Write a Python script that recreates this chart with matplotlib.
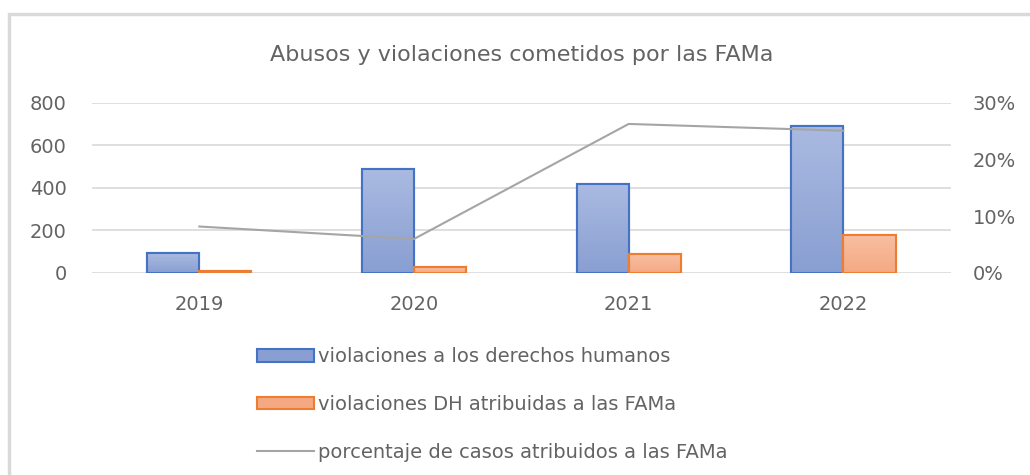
import matplotlib.pyplot as plt
from matplotlib.ticker import PercentFormatter
from matplotlib.patches import Rectangle
from matplotlib.colors import LinearSegmentedColormap
import numpy as np

# DATA ---------------------------------------------------------------------
years = ['2019', '2020', '2021', '2022']
violaciones_dh = [94, 489, 417, 693]            # violaciones a los derechos humanos
violaciones_fama = [8, 30, 89, 179]             # violaciones DH atribuidas a las FAMa
porcentaje_fama = [0.082, 0.060, 0.263, 0.251]  # porcentaje de casos atribuidos a las FAMa

labels = ['violaciones a los derechos humanos',
          'violaciones DH atribuidas a las FAMa',
          'porcentaje de casos atribuidos a las FAMa']

# STYLE ----------------------------------------------------------------------
plt.rcParams['font.family'] = ['DejaVu Sans']
text_gray = '#636363'
blue_top, blue_bot, blue_edge = '#AABAE1', '#899FD2', '#4472C4'
orange_top, orange_bot, orange_edge = '#F8BFA2', '#F4A983', '#ED7D31'
line_gray = '#A5A5A5'

fig = plt.figure(figsize=(10.3, 4.75), dpi=100)
ax = fig.add_axes([0.0893, 0.4253, 0.8337, 0.3579])

# outer chart frame (only top/left visible in the crop)
fig.patches.append(Rectangle((9 / 1030, -0.1), 1.2, 1 - 14 / 475 + 0.1,
                             transform=fig.transFigure, fill=False,
                             edgecolor='#D9D9D9', linewidth=2.5))

x = np.arange(len(years))
w = 0.243
bars1 = ax.bar(x - w / 2, violaciones_dh, w, color=blue_bot, edgecolor=blue_edge,
               linewidth=1.5, label=labels[0], zorder=3)
bars2 = ax.bar(x + w / 2, violaciones_fama, w, color=orange_bot, edgecolor=orange_edge,
               linewidth=1.5, label=labels[1], zorder=3)


# vertical gradient fill inside each bar (Excel style)
def gradient_fill(bars, top, bot):
    cmap = LinearSegmentedColormap.from_list('g', [bot, top])
    grad = np.linspace(0, 1, 256).reshape(-1, 1)
    for b in bars:
        bx, by = b.get_x(), b.get_y()
        bw, bh = b.get_width(), b.get_height()
        if bh <= 0:
            continue
        im = ax.imshow(grad, cmap=cmap, origin='lower', aspect='auto',
                       extent=[bx, bx + bw, by, by + bh], zorder=3.1)
        im.set_clip_path(b)
        edge = Rectangle((bx, by), bw, bh, fill=False, edgecolor=b.get_edgecolor(),
                         linewidth=1.5, zorder=3.2)
        ax.add_patch(edge)


gradient_fill(bars1, blue_top, blue_bot)
gradient_fill(bars2, orange_top, orange_bot)

ax.set_ylim(0, 800)
ax.set_yticks([0, 200, 400, 600, 800])
ax.set_xlim(-0.5, len(years) - 0.5)
ax.set_xticks(x)
ax.set_xticklabels(years)
ax.yaxis.grid(True, color='#D9D9D9', linewidth=1.2, zorder=0)
ax.set_axisbelow(True)
for s in ax.spines.values():
    s.set_visible(False)
ax.tick_params(length=0, labelsize=14, colors=text_gray)
ax.tick_params(axis='y', pad=18)
ax.tick_params(axis='x', pad=16)

ax2 = ax.twinx()
ax2.plot(x, porcentaje_fama, color=line_gray, linewidth=1.5, label=labels[2])
ax2.set_ylim(0, 0.30)
ax2.set_yticks([0, 0.1, 0.2, 0.3])
ax2.yaxis.set_major_formatter(PercentFormatter(1.0, decimals=0))
for s in ax2.spines.values():
    s.set_visible(False)
ax2.tick_params(length=0, labelsize=14, colors=text_gray, pad=16)

ax.set_title('Abusos y violaciones cometidos por las FAMa', fontsize=16,
             color=text_gray, pad=30)

h1, l1 = ax.get_legend_handles_labels()
h2, l2 = ax2.get_legend_handles_labels()
fig.legend(h1 + h2, l1 + l2, loc='upper left', bbox_to_anchor=(0.233, 0.306),
           frameon=False, fontsize=14, labelcolor=text_gray, handlelength=2.9,
           handleheight=0.62, handletextpad=0.2, labelspacing=1.48)

fig.savefig('out.png', dpi=100)
